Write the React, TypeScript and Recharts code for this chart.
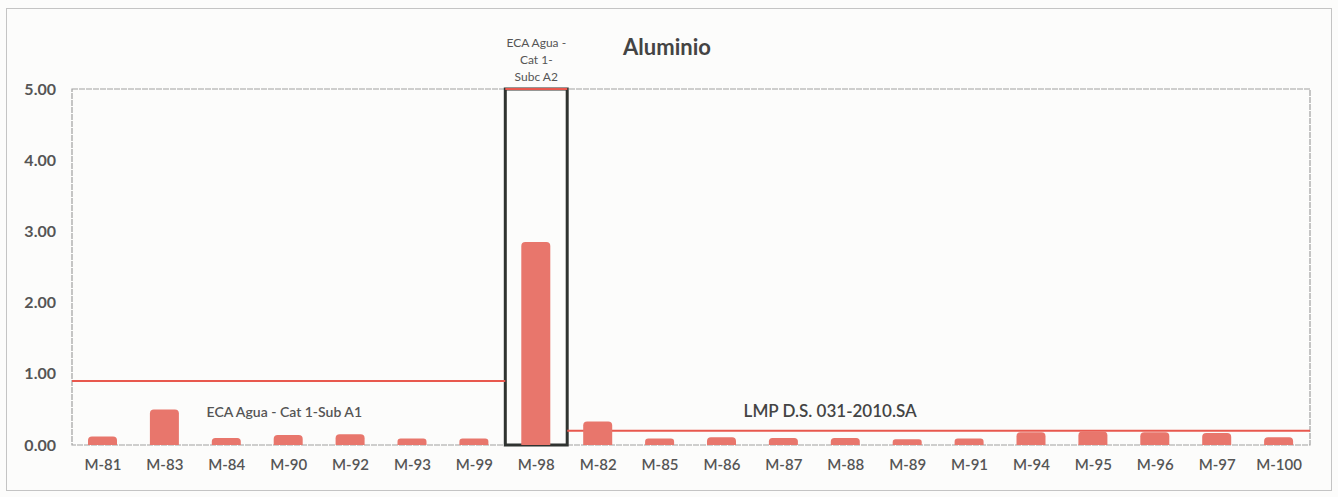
import React from 'react';
import { BarChart, Bar, XAxis, YAxis, ReferenceArea } from 'recharts';

const categories = ['M-81', 'M-83', 'M-84', 'M-90', 'M-92', 'M-93', 'M-99', 'M-98', 'M-82', 'M-85', 'M-86', 'M-87', 'M-88', 'M-89', 'M-91', 'M-94', 'M-95', 'M-96', 'M-97', 'M-100'];
const aluminio = [0.12, 0.5, 0.1, 0.14, 0.15, 0.09, 0.09, 2.85, 0.33, 0.09, 0.11, 0.1, 0.1, 0.08, 0.09, 0.18, 0.19, 0.18, 0.17, 0.11];
const yTicks = [0, 1, 2, 3, 4, 5];

const limitNames = ['ECA Agua - Cat 1-Sub A1', 'ECA Agua - Cat 1-Subc A2', 'LMP D.S. 031-2010.SA'];
const limitValues = [0.9, 5.0, 0.2];
const limitFrom = ['M-81', 'M-98', 'M-82'];
const limitTo = ['M-99', 'M-98', 'M-100'];
const boxedCategory = 'M-98';
const title = 'Aluminio';

const data = categories.map((c, i) => ({ name: c, value: aluminio[i] }));

const FONT = 'Lato, "Open Sans", sans-serif';
const TEXT = '#555';
const RED = '#E8584E';
// half thickness of limit lines, in axis units (about 1px)
const HALF = 0.014;

const labelA1 = (props: any) => {
  const vb = props.viewBox;
  return (
    <text x={vb.x + vb.width * 0.49} y={vb.y + 37} textAnchor="middle" fontFamily={FONT} fontSize={14} fontWeight={600} fill={TEXT}>
      {limitNames[0]}
    </text>
  );
};

const labelA2 = (props: any) => {
  const vb = props.viewBox;
  const cx = vb.x + vb.width / 2;
  const lines = ['ECA Agua -', 'Cat 1-', 'Subc A2'];
  return (
    <g>
      {lines.map((t, i) => (
        <text key={i} x={cx} y={vb.y - 41 + i * 17} textAnchor="middle" fontFamily={FONT} fontSize={12} fill={TEXT}>
          {t}
        </text>
      ))}
    </g>
  );
};

const labelLMP = (props: any) => {
  const vb = props.viewBox;
  return (
    <text x={vb.x + vb.width * 0.354} y={vb.y - 13} textAnchor="middle" fontFamily={FONT} fontSize={17} fontWeight={600} fill="#444">
      {limitNames[2]}
    </text>
  );
};

const labelRenderers = [labelA1, labelA2, labelLMP];

export default function App() {
  return (
    <div style={{ position: 'absolute', left: 0, top: 0, width: 1338, height: 497, background: '#fcfcfb' }}>
      <div style={{ position: 'absolute', left: 6, top: 8, width: 1326, height: 483, border: '1px solid #c4c4c4', boxSizing: 'border-box' }} />
      <div
        style={{
          position: 'absolute',
          left: 567,
          top: 33,
          width: 200,
          textAlign: 'center',
          fontFamily: FONT,
          fontSize: 22,
          fontWeight: 700,
          color: '#444',
        }}
      >
        {title}
      </div>
      <div style={{ position: 'absolute', left: 0, top: 0 }}>
        <BarChart width={1338} height={497} data={data} margin={{ top: 89, right: 28, bottom: 12, left: 12 }}>
          <XAxis
            dataKey="name"
            axisLine={false}
            tickLine={false}
            tickSize={0}
            tickMargin={14}
            height={40}
            interval={0}
            tick={{ fontFamily: FONT, fontSize: 15, fontWeight: 600, fill: TEXT }}
          />
          <YAxis
            domain={[0, 5]}
            ticks={yTicks}
            width={60}
            axisLine={false}
            tickLine={false}
            tickSize={0}
            tickMargin={16}
            tickFormatter={(v: number) => v.toFixed(2)}
            tick={{ fontFamily: FONT, fontSize: 16, fontWeight: 700, fill: TEXT }}
          />
          <ReferenceArea
            x1={categories[0]}
            x2={categories[categories.length - 1]}
            y1={0}
            y2={5}
            fill="none"
            stroke="#a0a0a0"
            strokeWidth={1.2}
            strokeDasharray="6 1"
          />
          <Bar dataKey="value" fill="#E8766C" barSize={29} radius={[4, 4, 0, 0]} isAnimationActive={false} />
          <ReferenceArea
            x1={boxedCategory}
            x2={boxedCategory}
            y1={0}
            y2={5}
            fill="none"
            stroke="#2f3330"
            strokeWidth={3}
          />
          {limitValues.map((v, i) => (
            <ReferenceArea
              key={i}
              ifOverflow="visible"
              x1={limitFrom[i]}
              x2={limitTo[i]}
              y1={v - HALF}
              y2={v + HALF}
              fill={RED}
              fillOpacity={1}
              stroke="none"
              label={labelRenderers[i]}
            />
          ))}
        </BarChart>
      </div>
    </div>
  );
}
